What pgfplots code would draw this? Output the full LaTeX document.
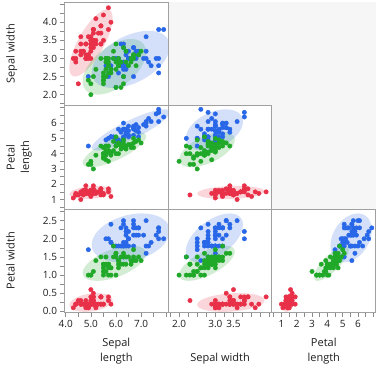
\documentclass[border=0pt]{standalone}
\usepackage{fontspec}
\setmainfont{Open Sans}
\usepackage{pgfplots}
\usepackage{pgfplotstable}
\pgfplotsset{compat=1.18}

\definecolor{cred}{RGB}{232,48,72}
\definecolor{cblue}{RGB}{40,104,232}
\definecolor{cgreen}{RGB}{32,168,40}
\definecolor{bordergray}{RGB}{160,160,160}
\definecolor{tickgray}{RGB}{140,140,140}
\definecolor{cellgray}{RGB}{246,246,246}
\definecolor{txt}{RGB}{30,30,30}

\pgfplotstableread{
SL SW PL PW
5.1 3.5 1.4 0.2
4.9 3.0 1.4 0.2
4.7 3.2 1.3 0.2
4.6 3.1 1.5 0.2
5.0 3.6 1.4 0.2
5.4 3.9 1.7 0.4
4.6 3.4 1.4 0.3
5.0 3.4 1.5 0.2
4.4 2.9 1.4 0.2
4.9 3.1 1.5 0.1
5.4 3.7 1.5 0.2
4.8 3.4 1.6 0.2
4.8 3.0 1.4 0.1
4.3 3.0 1.1 0.1
5.8 4.0 1.2 0.2
5.7 4.4 1.5 0.4
5.4 3.9 1.3 0.4
5.1 3.5 1.4 0.3
5.7 3.8 1.7 0.3
5.1 3.8 1.5 0.3
5.4 3.4 1.7 0.2
5.1 3.7 1.5 0.4
4.6 3.6 1.0 0.2
5.1 3.3 1.7 0.5
4.8 3.4 1.9 0.2
5.0 3.0 1.6 0.2
5.0 3.4 1.6 0.4
5.2 3.5 1.5 0.2
5.2 3.4 1.4 0.2
4.7 3.2 1.6 0.2
4.8 3.1 1.6 0.2
5.4 3.4 1.5 0.4
5.2 4.1 1.5 0.1
5.5 4.2 1.4 0.2
4.9 3.1 1.5 0.2
5.0 3.2 1.2 0.2
5.5 3.5 1.3 0.2
4.9 3.6 1.4 0.1
4.4 3.0 1.3 0.2
5.1 3.4 1.5 0.2
5.0 3.5 1.3 0.3
4.5 2.3 1.3 0.3
4.4 3.2 1.3 0.2
5.0 3.5 1.6 0.6
5.1 3.8 1.9 0.4
4.8 3.0 1.4 0.3
5.1 3.8 1.6 0.2
4.6 3.2 1.4 0.2
5.3 3.7 1.5 0.2
5.0 3.3 1.4 0.2
}\setosa

\pgfplotstableread{
SL SW PL PW
7.0 3.2 4.7 1.4
6.4 3.2 4.5 1.5
6.9 3.1 4.9 1.5
5.5 2.3 4.0 1.3
6.5 2.8 4.6 1.5
5.7 2.8 4.5 1.3
6.3 3.3 4.7 1.6
4.9 2.4 3.3 1.0
6.6 2.9 4.6 1.3
5.2 2.7 3.9 1.4
5.0 2.0 3.5 1.0
5.9 3.0 4.2 1.5
6.0 2.2 4.0 1.0
6.1 2.9 4.7 1.4
5.6 2.9 3.6 1.3
6.7 3.1 4.4 1.4
5.6 3.0 4.5 1.5
5.8 2.7 4.1 1.0
6.2 2.2 4.5 1.5
5.6 2.5 3.9 1.1
5.9 3.2 4.8 1.8
6.1 2.8 4.0 1.3
6.3 2.5 4.9 1.5
6.1 2.8 4.7 1.2
6.4 2.9 4.3 1.3
6.6 3.0 4.4 1.4
6.8 2.8 4.8 1.4
6.7 3.0 5.0 1.7
6.0 2.9 4.5 1.5
5.7 2.6 3.5 1.0
5.5 2.4 3.8 1.1
5.5 2.4 3.7 1.0
5.8 2.7 3.9 1.2
6.0 2.7 5.1 1.6
5.4 3.0 4.5 1.5
6.0 3.4 4.5 1.6
6.7 3.1 4.7 1.5
6.3 2.3 4.4 1.3
5.6 3.0 4.1 1.3
5.5 2.5 4.0 1.3
5.5 2.6 4.4 1.2
6.1 3.0 4.6 1.4
5.8 2.6 4.0 1.2
5.0 2.3 3.3 1.0
5.6 2.7 4.2 1.3
5.7 3.0 4.2 1.2
5.7 2.9 4.2 1.3
6.2 2.9 4.3 1.3
5.1 2.5 3.0 1.1
5.7 2.8 4.1 1.3
}\versicolor

\pgfplotstableread{
SL SW PL PW
6.3 3.3 6.0 2.5
5.8 2.7 5.1 1.9
7.1 3.0 5.9 2.1
6.3 2.9 5.6 1.8
6.5 3.0 5.8 2.2
7.6 3.0 6.6 2.1
4.9 2.5 4.5 1.7
7.3 2.9 6.3 1.8
6.7 2.5 5.8 1.8
7.2 3.6 6.1 2.5
6.5 3.2 5.1 2.0
6.4 2.7 5.3 1.9
6.8 3.0 5.5 2.1
5.7 2.5 5.0 2.0
5.8 2.8 5.1 2.4
6.4 3.2 5.3 2.3
6.5 3.0 5.5 1.8
7.7 3.8 6.7 2.2
7.7 2.6 6.9 2.3
6.0 2.2 5.0 1.5
6.9 3.2 5.7 2.3
5.6 2.8 4.9 2.0
7.7 2.8 6.7 2.0
6.3 2.7 4.9 1.8
6.7 3.3 5.7 2.1
7.2 3.2 6.0 1.8
6.2 2.8 4.8 1.8
6.1 3.0 4.9 1.8
6.4 2.8 5.6 2.1
7.2 3.0 5.8 1.6
7.4 2.8 6.1 1.9
7.9 3.8 6.4 2.0
6.4 2.8 5.6 2.2
6.3 2.8 5.1 1.5
6.1 2.6 5.6 1.4
7.7 3.0 6.1 2.3
6.3 3.4 5.6 2.4
6.4 3.1 5.5 1.8
6.0 3.0 4.8 1.8
6.9 3.1 5.4 2.1
6.7 3.1 5.6 2.4
6.9 3.1 5.1 2.3
5.8 2.7 5.1 1.9
6.8 3.2 5.9 2.3
6.7 3.3 5.7 2.5
6.7 3.0 5.2 2.3
6.3 2.5 5.0 1.9
6.5 3.0 5.2 2.0
6.2 3.4 5.4 2.3
5.9 3.0 5.1 1.8
}\virginica

% 95% bivariate-normal density ellipse: mean x, mean y, sd x, sd y, r, colour
\newcommand{\dens}[6]{%
  \pgfplotsextra{%
    \begin{pgfscope}%
      \pgfmathsetmacro{\elA}{2.4477*#3}%
      \pgfmathsetmacro{\elB}{2.4477*#5*#4}%
      \pgfmathsetmacro{\elC}{2.4477*#4*sqrt(1-(#5)*(#5))}%
      \pgfsetfillcolor{#6}%
      \pgfsetfillopacity{0.2}%
      \pgfpathellipse{\pgfplotspointaxisxy{#1}{#2}}%
        {\pgfplotspointaxisdirectionxy{\elA}{\elB}}%
        {\pgfplotspointaxisdirectionxy{0}{\elC}}%
      \pgfusepath{fill}%
    \end{pgfscope}}}

\pgfplotsset{
  spm/.style={
    scale only axis, width=103.7pt, height=103.5pt,
    anchor=north west,
    axis line style={draw=bordergray, line width=0.9pt},
    tick style={draw=tickgray, line width=0.6pt},
    tick align=outside, major tick length=4pt,
    xtick pos=bottom, ytick pos=left,
    axis background/.style={fill=white},
    axis on top,
    /pgf/number format/assume math mode=true,
    tick label style={font=\fontsize{10}{12}\selectfont, text=txt},
    every axis label/.append style={font=\fontsize{11}{14.5}\selectfont, text=txt, inner sep=0pt, align=center},
    xlabel style={at={(axis description cs:0.5,-0.4976)}, anchor=south},
    ylabel style={at={(axis description cs:-0.564,0.5)}, anchor=north, rotate=0},
  },
  pts/.style={only marks, mark=*, mark size=2.2pt, mark options={draw=none}},
  slx/.style={xmin=3.95, xmax=8.08},
  swx/.style={xmin=1.70, xmax=4.56},
  plx/.style={xmin=0.38, xmax=7.15},
  swy/.style={ymin=1.70, ymax=4.56},
  ply/.style={ymin=0.38, ymax=7.15},
  pwy/.style={ymin=-0.03, ymax=2.82},
  slxt/.style={xtick={4,4.5,5,5.5,6,6.5,7,7.5,8}, xticklabels={4.0,,5.0,,6.0,,7.0,,}},
  swxt/.style={xtick={1.75,2,2.25,2.5,2.75,3,3.25,3.5,3.75,4,4.25,4.5}, xticklabels={,2.0,,,,3.0,,3.5,,,,}},
  plxt/.style={xtick={0.5,1,1.5,2,2.5,3,3.5,4,4.5,5,5.5,6,6.5,7}, xticklabels={,1,,2,,3,,4,,5,,6,,}},
  swyt/.style={ytick={1.75,2,2.25,2.5,2.75,3,3.25,3.5,3.75,4,4.25,4.5}, yticklabels={,2.0,,2.5,,3.0,,3.5,,4.0,,}},
  plyt/.style={ytick={0.5,1,1.5,2,2.5,3,3.5,4,4.5,5,5.5,6,6.5,7}, yticklabels={,1,,2,,3,,4,,5,,6,,}},
  pwyt/.style={ytick={0,0.25,0.5,0.75,1,1.25,1.5,1.75,2,2.25,2.5,2.75}, yticklabels={0.0,,0.5,,1.0,,1.5,,2.0,,2.5,}},
}

\begin{document}
\begin{tikzpicture}
\useasboundingbox (0,0) rectangle (380pt,368pt);
\fill[cellgray] (168.2pt,366pt) rectangle (375.6pt,262.5pt);
\fill[cellgray] (271.9pt,262.5pt) rectangle (375.6pt,159pt);

% Row 1: Sepal width vs Sepal length
\begin{axis}[spm, at={(64.5pt,366pt)}, slx, swy, xtick=\empty, swyt, ylabel={Sepal width}]
\dens{5.006}{3.428}{0.3525}{0.3791}{0.7425}{cred}
\dens{5.936}{2.770}{0.5162}{0.3138}{0.5259}{cgreen}
\dens{6.588}{2.974}{0.6359}{0.3225}{0.4572}{cblue}
\addplot[pts, cred] table[x=SL, y=SW] {\setosa};
\addplot[pts, cblue] table[x=SL, y=SW] {\virginica};
\addplot[pts, cgreen] table[x=SL, y=SW] {\versicolor};
\end{axis}

% Row 2: Petal length
\begin{axis}[spm, at={(64.5pt,262.5pt)}, slx, ply, xtick=\empty, plyt, ylabel={Petal\\length}]
\dens{5.006}{1.462}{0.3525}{0.1737}{0.2672}{cred}
\dens{5.936}{4.260}{0.5162}{0.4699}{0.7540}{cgreen}
\dens{6.588}{5.552}{0.6359}{0.5519}{0.8642}{cblue}
\addplot[pts, cred] table[x=SL, y=PL] {\setosa};
\addplot[pts, cblue] table[x=SL, y=PL] {\virginica};
\addplot[pts, cgreen] table[x=SL, y=PL] {\versicolor};
\end{axis}

\begin{axis}[spm, at={(168.2pt,262.5pt)}, swx, ply, xtick=\empty, ytick=\empty]
\dens{3.428}{1.462}{0.3791}{0.1737}{0.1777}{cred}
\dens{2.770}{4.260}{0.3138}{0.4699}{0.5605}{cgreen}
\dens{2.974}{5.552}{0.3225}{0.5519}{0.4010}{cblue}
\addplot[pts, cred] table[x=SW, y=PL] {\setosa};
\addplot[pts, cblue] table[x=SW, y=PL] {\virginica};
\addplot[pts, cgreen] table[x=SW, y=PL] {\versicolor};
\end{axis}

% Row 3: Petal width
\begin{axis}[spm, at={(64.5pt,159pt)}, slx, pwy, slxt, pwyt, ylabel={Petal width}, xlabel={Sepal\\length}]
\dens{5.006}{0.246}{0.3525}{0.1054}{0.2781}{cred}
\dens{5.936}{1.326}{0.5162}{0.1978}{0.5465}{cgreen}
\dens{6.588}{2.026}{0.6359}{0.2747}{0.2811}{cblue}
\addplot[pts, cred] table[x=SL, y=PW] {\setosa};
\addplot[pts, cblue] table[x=SL, y=PW] {\virginica};
\addplot[pts, cgreen] table[x=SL, y=PW] {\versicolor};
\end{axis}

\begin{axis}[spm, at={(168.2pt,159pt)}, swx, pwy, swxt, ytick=\empty, xlabel={Sepal width}]
\dens{3.428}{0.246}{0.3791}{0.1054}{0.2328}{cred}
\dens{2.770}{1.326}{0.3138}{0.1978}{0.6640}{cgreen}
\dens{2.974}{2.026}{0.3225}{0.2747}{0.5377}{cblue}
\addplot[pts, cred] table[x=SW, y=PW] {\setosa};
\addplot[pts, cblue] table[x=SW, y=PW] {\virginica};
\addplot[pts, cgreen] table[x=SW, y=PW] {\versicolor};
\end{axis}

\begin{axis}[spm, at={(271.9pt,159pt)}, plx, pwy, plxt, ytick=\empty, xlabel={Petal\\length}]
\dens{1.462}{0.246}{0.1737}{0.1054}{0.3316}{cred}
\dens{4.260}{1.326}{0.4699}{0.1978}{0.7867}{cgreen}
\dens{5.552}{2.026}{0.5519}{0.2747}{0.3221}{cblue}
\addplot[pts, cred] table[x=PL, y=PW] {\setosa};
\addplot[pts, cblue] table[x=PL, y=PW] {\virginica};
\addplot[pts, cgreen] table[x=PL, y=PW] {\versicolor};
\end{axis}
\end{tikzpicture}
\end{document}
